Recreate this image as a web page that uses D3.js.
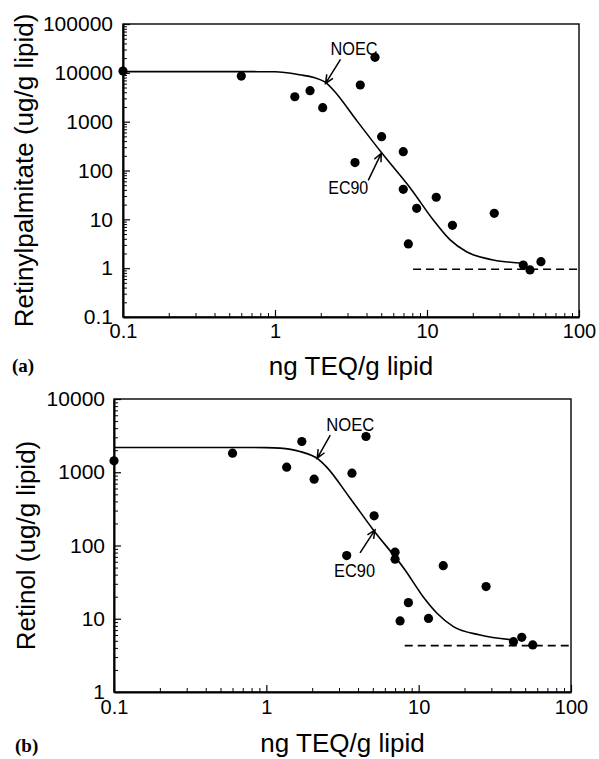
<!DOCTYPE html>
<html>
<head>
<meta charset="utf-8">
<script src="https://cdn.jsdelivr.net/npm/d3@7"></script>
<style>
  body { margin: 0; background: #fff; }
  svg { display: block; }
</style>
</head>
<body>
<div id="viz"></div>
<script>
const width = 599;
const height = 759;
const sans = '"Liberation Sans", Arial, Helvetica, sans-serif';
const serif = '"Liberation Serif", "Times New Roman", serif';

// shared x axis (ng TEQ/g lipid)
const xDomain = [0.1, 100];
const xTicks = [0.1, 1, 10, 100];

// (a) retinylpalmitate, measured points
const palmX = [0.1, 0.6, 1.35, 1.7, 2.06, 3.36, 3.64, 4.55, 5.03, 6.98, 6.98, 7.54, 8.55, 11.5, 14.7, 27.7, 43, 47.6, 56.2];
const palmY = [10900, 8600, 3240, 4310, 1935, 145, 5640, 20800, 493, 243, 41.2, 3.13, 16.8, 28.3, 7.55, 13.3, 1.16, 0.92, 1.36];
// (a) fitted curve
const palmFitX = [0.1, 0.5, 1.0, 1.46, 1.8, 2.19, 2.42, 3.5, 5.03, 7.93, 11.0, 14.2, 18.2, 27.3, 44];
const palmFitY = [10600, 10600, 10500, 9100, 8000, 6100, 4450, 990, 230, 40, 9.7, 3.8, 2.17, 1.47, 1.26];
const palmBaseX = [8.1, 100];
const palmBaseY = [0.95, 0.95];
const palmYTicks = [0.1, 1, 10, 100, 1000, 10000, 100000];

// (b) retinol
const retX = [0.1, 0.6, 1.36, 1.71, 2.06, 3.37, 3.65, 4.51, 5.1, 7.0, 7.0, 7.55, 8.56, 11.6, 14.5, 27.7, 41.9, 47.5, 56.1];
const retY = [1432, 1824, 1174, 2630, 805, 72.8, 972, 3075, 254, 81, 65, 9.33, 16.6, 10.1, 53, 27.5, 4.87, 5.58, 4.39];
const retFitX = [0.1, 0.6, 1.0, 1.23, 1.66, 2.19, 2.49, 3.5, 5.04, 8.14, 10.7, 13.2, 16.9, 25.3, 43];
const retFitY = [2180, 2180, 2170, 2135, 1920, 1510, 1174, 460, 163, 46.4, 20, 11.9, 7.8, 6.0, 5.1];
const retBaseX = [8.1, 100];
const retBaseY = [4.3, 4.3];
const retYTicks = [1, 10, 100, 1000, 10000];

// annotation arrow tips (data units)
const palmNoec = [2.15, 6100];
const palmEc90 = [5.0, 225];
const retNoec = [2.16, 1560];
const retEc90 = [5.17, 163];

const svg = d3.select('#viz')
  .append('svg')
    .attr('width', width)
    .attr('height', height)
    .attr('viewBox', [0, 0, width, height]);

svg.append('rect').attr('width', width).attr('height', height).attr('fill', '#fff');

const zip = (a, b) => a.map((v, i) => [v, b[i]]);

const panels = [
  {
    letter: '(a)', letterPos: [12, 372],
    left: 123, right: 579, top: 24, bottom: 317,
    yDomain: [0.1, 100000], yTicks: palmYTicks,
    yTitle: 'Retinylpalmitate (ug/g lipid)', yTitleX: 33,
    xTitleY: 375, xPad: 7, yPad: 10,
    points: zip(palmX, palmY), fit: zip(palmFitX, palmFitY), base: zip(palmBaseX, palmBaseY),
    notes: [
      {text: 'NOEC', tip: palmNoec, tail: [15, -24], label: [5, -28], len: 47},
      {text: 'EC90', tip: palmEc90, tail: [-13, 27], label: [-53, 41], len: 40}
    ]
  },
  {
    letter: '(b)', letterPos: [15, 752],
    left: 114, right: 571, top: 399, bottom: 692,
    yDomain: [1, 10000], yTicks: retYTicks,
    yTitle: 'Retinol (ug/g lipid)', yTitleX: 35,
    xTitleY: 752, xPad: 8, yPad: 9,
    points: zip(retX, retY), fit: zip(retFitX, retFitY), base: zip(retBaseX, retBaseY),
    notes: [
      {text: 'NOEC', tip: retNoec, tail: [13, -23], label: [9, -27], len: 48},
      {text: 'EC90', tip: retEc90, tail: [-15, 23], label: [-41, 47], len: 41}
    ]
  }
];

panels.forEach(p => drawPanel(p));

function drawPanel(p) {
  const x = d3.scaleLog().domain(xDomain).range([p.left, p.right]);
  const y = d3.scaleLog().domain(p.yDomain).range([p.bottom, p.top]);
  const g = svg.append('g');

  // frame
  g.append('rect')
    .attr('x', p.left).attr('y', p.top)
    .attr('width', p.right - p.left).attr('height', p.bottom - p.top)
    .attr('fill', 'none').attr('stroke', '#000').attr('stroke-width', 1.4);

  const xMinor = x.ticks().filter(v => !xTicks.includes(v));
  const yMinor = y.ticks().filter(v => !p.yTicks.includes(v));

  // minor ticks (inside)
  g.append('g')
    .attr('transform', `translate(0,${p.bottom})`)
    .call(d3.axisBottom(x).tickValues(xMinor).tickSize(-4).tickFormat(''))
    .call(a => a.select('.domain').remove());
  g.append('g')
    .attr('transform', `translate(${p.left},0)`)
    .call(d3.axisLeft(y).tickValues(yMinor).tickSize(-4).tickFormat(''))
    .call(a => a.select('.domain').remove());

  // major ticks + labels
  const xAxis = g.append('g')
    .attr('transform', `translate(0,${p.bottom})`)
    .call(d3.axisBottom(x).tickValues(xTicks).tickSizeInner(-7).tickSizeOuter(0)
      .tickPadding(p.xPad).tickFormat(d => String(d)));
  xAxis.selectAll('text').attr('font-family', sans).attr('font-size', 20).attr('fill', '#000');

  const yAxis = g.append('g')
    .attr('transform', `translate(${p.left},0)`)
    .call(d3.axisLeft(y).tickValues(p.yTicks).tickSizeInner(-7).tickSizeOuter(0)
      .tickPadding(p.yPad).tickFormat(d => String(d)));
  yAxis.selectAll('text').attr('font-family', sans).attr('font-size', 21).attr('fill', '#000');

  [xAxis, yAxis].forEach(a => {
    a.select('.domain').attr('stroke-width', 2);
    a.selectAll('.tick line').attr('stroke-width', 1.2);
  });

  // fitted curve
  g.append('path')
    .datum(p.fit)
    .attr('fill', 'none')
    .attr('stroke', '#000')
    .attr('stroke-width', 1.6)
    .attr('d', d3.line().x(d => x(d[0])).y(d => y(d[1])).curve(d3.curveMonotoneX));

  // dashed baseline
  g.append('path')
    .datum(p.base)
    .attr('fill', 'none')
    .attr('stroke', '#000')
    .attr('stroke-width', 1.6)
    .attr('stroke-dasharray', '8,5')
    .attr('d', d3.line().x(d => x(d[0])).y(d => y(d[1])));

  // points
  g.append('g')
    .selectAll('circle')
    .data(p.points)
    .join('circle')
      .attr('cx', d => x(d[0]))
      .attr('cy', d => y(d[1]))
      .attr('r', 4.6)
      .attr('fill', '#000');

  // NOEC / EC90 arrows
  p.notes.forEach(n => {
    const tx = x(n.tip[0]), ty = y(n.tip[1]);
    const sx = tx + n.tail[0], sy = ty + n.tail[1];
    const ang = Math.atan2(sy - ty, sx - tx);
    const head = 9, spread = 0.42;
    g.append('path')
      .attr('fill', 'none')
      .attr('stroke', '#000')
      .attr('stroke-width', 1.5)
      .attr('d', `M${sx},${sy}L${tx},${ty}` +
        `M${tx + head * Math.cos(ang - spread)},${ty + head * Math.sin(ang - spread)}L${tx},${ty}` +
        `L${tx + head * Math.cos(ang + spread)},${ty + head * Math.sin(ang + spread)}`);
    g.append('text')
      .attr('x', tx + n.label[0])
      .attr('y', ty + n.label[1])
      .attr('font-family', sans)
      .attr('font-size', 19)
      .attr('textLength', n.len)
      .attr('lengthAdjust', 'spacingAndGlyphs')
      .text(n.text);
  });

  // axis titles
  g.append('text')
    .attr('x', (p.left + p.right) / 2)
    .attr('y', p.xTitleY)
    .attr('text-anchor', 'middle')
    .attr('font-family', sans)
    .attr('font-size', 26)
    .text('ng TEQ/g lipid');

  g.append('text')
    .attr('transform', `translate(${p.yTitleX},${(p.top + p.bottom) / 2}) rotate(-90)`)
    .attr('text-anchor', 'middle')
    .attr('font-family', sans)
    .attr('font-size', 26)
    .text(p.yTitle);

  g.append('text')
    .attr('x', p.letterPos[0])
    .attr('y', p.letterPos[1])
    .attr('font-family', serif)
    .attr('font-weight', 'bold')
    .attr('font-size', 19)
    .text(p.letter);
}
</script>
</body>
</html>
